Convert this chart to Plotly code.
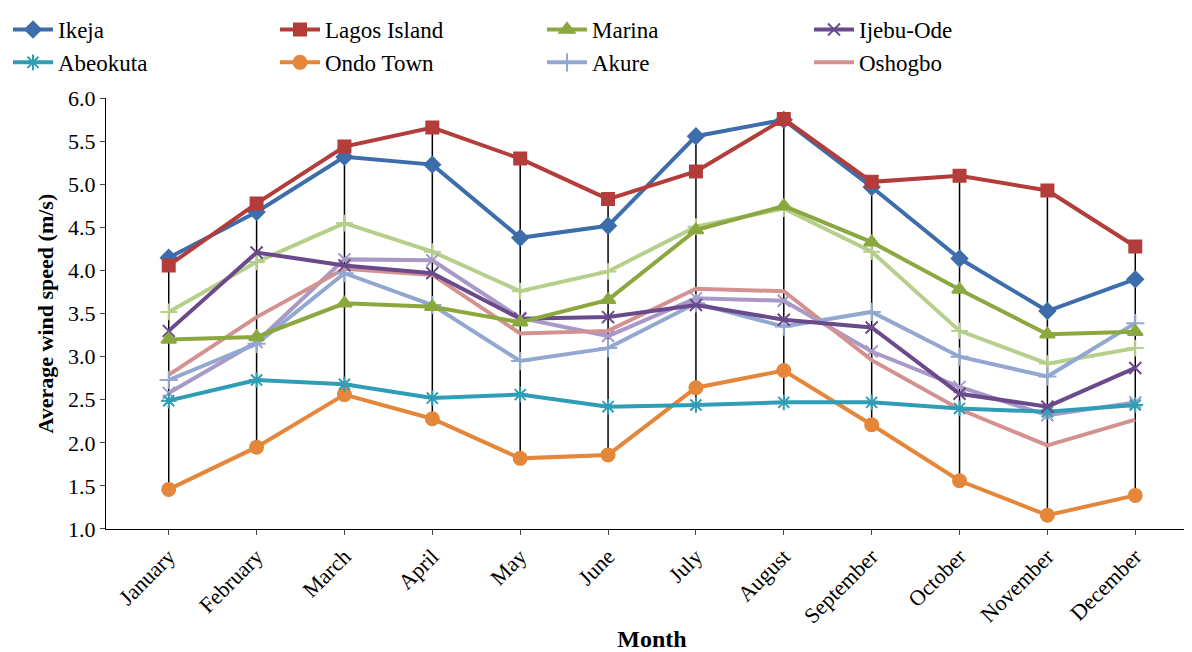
import plotly.graph_objects as go

months = ["January","February","March","April","May","June","July","August","September","October","November","December"]
ikeja = [4.15,4.68,5.32,5.23,4.38,4.52,5.56,5.75,4.97,4.14,3.53,3.90]
lagos = [4.06,4.78,5.44,5.66,5.30,4.83,5.15,5.76,5.03,5.10,4.93,4.28]
marina = [3.20,3.23,3.62,3.58,3.40,3.66,4.47,4.75,4.33,3.78,3.26,3.29]
ijebu = [3.30,4.21,4.06,3.97,3.44,3.46,3.60,3.43,3.34,2.57,2.42,2.87]
abeokuta = [2.49,2.73,2.68,2.52,2.56,2.42,2.44,2.47,2.47,2.40,2.36,2.44]
ondo = [1.46,1.95,2.56,2.28,1.82,1.86,2.64,2.84,2.21,1.56,1.16,1.39]
akure = [2.73,3.15,3.97,3.60,2.95,3.10,3.62,3.35,3.52,3.00,2.77,3.39]
oshogbo = [2.79,3.46,4.02,3.95,3.27,3.30,3.79,3.76,2.96,2.39,1.97,2.27]
extra_green = [3.52,4.10,4.55,4.22,3.76,3.99,4.51,4.72,4.22,3.30,2.92,3.10]
extra_purple = [2.58,3.17,4.13,4.12,3.45,3.24,3.68,3.65,3.06,2.65,2.32,2.47]

series = [
    ("Ikeja", ikeja, "#3D6DAA", "diamond", 12, True),
    ("Lagos Island", lagos, "#B23D3A", "square", 12, True),
    ("Marina", marina, "#8BA83F", "triangle-up", 13, True),
    ("Ijebu-Ode", ijebu, "#6A4A8A", "x-thin-open", 12, True),
    ("Abeokuta", abeokuta, "#2F9DB5", "asterisk-open", 13, True),
    ("Ondo Town", ondo, "#E5873A", "circle", 13, True),
    ("Akure", akure, "#93A8D1", "cross-thin-open", 13, True),
    ("Oshogbo", oshogbo, "#D39290", "circle", 0, True),
    ("Series 9", extra_green, "#B6CF8B", "cross-thin-open", 12, False),
    ("Series 10", extra_purple, "#A899C8", "x-thin-open", 12, False),
]

all_vals = [s[1] for s in series]
hx, hy = [], []
for i, m in enumerate(months):
    col = [v[i] for v in all_vals]
    hx += [m, m, None]
    hy += [min(col), max(col), None]

fig = go.Figure()
fig.add_trace(go.Scatter(x=hx, y=hy, mode="lines", line=dict(color="black", width=1.5),
                         showlegend=False, hoverinfo="skip"))
order = [8, 9, 7, 6, 5, 4, 3, 2, 0, 1]
for idx in order:
    name, vals, color, sym, sz, show = series[idx]
    fig.add_trace(go.Scatter(
        x=months, y=vals, name=name, mode="lines+markers" if sz else "lines",
        line=dict(color=color, width=4),
        marker=dict(symbol=sym, size=sz, color=color, line=dict(color=color, width=2)),
        showlegend=show, legendrank=idx if show else 100))

fig.update_layout(
    width=1192, height=652, paper_bgcolor="white", plot_bgcolor="white",
    margin=dict(l=98, r=2, t=83, b=131),
    font=dict(family="Liberation Serif", size=21, color="black"),
    legend=dict(orientation="h", xref="container", yref="container", x=0.0, y=1.0,
                yanchor="top", xanchor="left",
                entrywidth=212, entrywidthmode="pixels", traceorder="normal",
                font=dict(size=23), itemwidth=40, tracegroupgap=0,
                bgcolor="rgba(0,0,0,0)"),
    xaxis=dict(showline=True, linecolor="black", ticks="outside", tickangle=-45,
               title=dict(text="<b>Month</b>", font=dict(size=24), standoff=2),
               showgrid=False, tickfont=dict(size=22)),
    yaxis=dict(range=[1.0, 6.0], dtick=0.5, tickformat=".1f", showline=True,
               linecolor="black", ticks="outside", showgrid=False, tickfont=dict(size=22),
               title=dict(text="<b>Average wind speed (m/s)</b>", font=dict(size=22), standoff=8)),
)
fig.write_html("out.html")
